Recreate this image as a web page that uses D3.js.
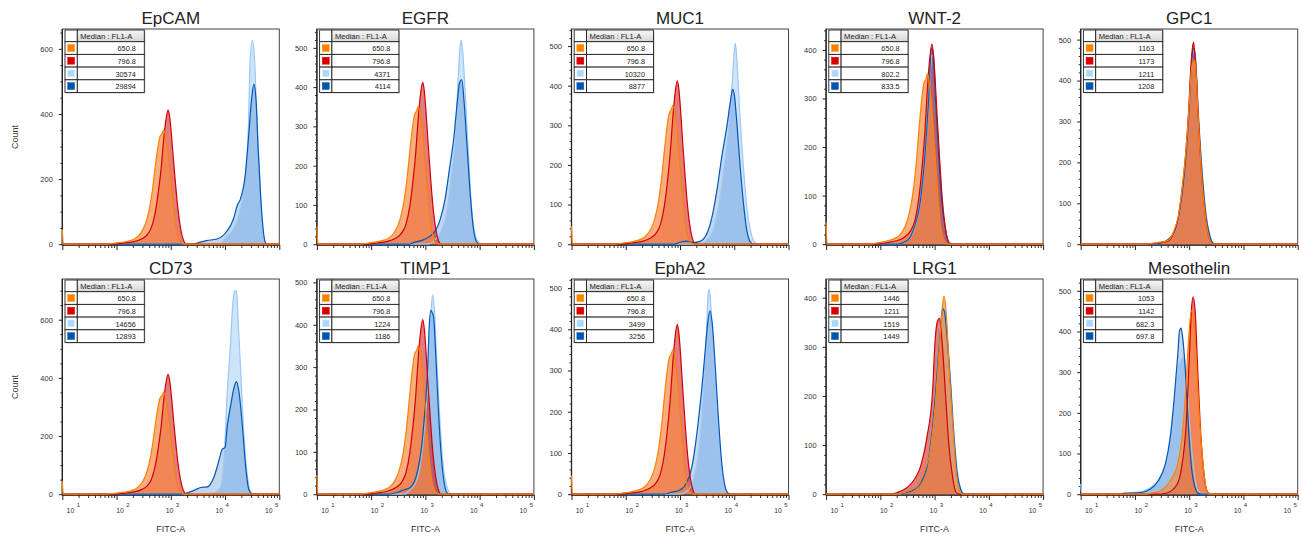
<!DOCTYPE html>
<html><head><meta charset="utf-8">
<script src="https://cdn.jsdelivr.net/npm/d3@7"></script>
<style>
body{margin:0;background:#fff;}
svg{display:block;font-family:"Liberation Sans",Arial,Helvetica,sans-serif;}
</style></head><body>
<svg id="chart" width="1302" height="539"></svg>
<script>
// ---------------- DATA ----------------
const panelNames = ["EpCAM","EGFR","MUC1","WNT-2","GPC1","CD73","TIMP1","EphA2","LRG1","Mesothelin"];
const yMax        = [661, 548, 543, 443, 526, 740, 508, 522, 438, 529];
const yMajorStep  = [200, 100, 100, 100, 100, 200, 100, 100, 100, 100];
const yMinorStep  = [50, 20, 20, 20, 20, 50, 20, 20, 20, 20];
const xTickExponents = [1, 2, 3, 4, 5];
const legendHeader = "Median : FL1-A";
const xAxisLabel = "FITC-A";
const yAxisLabel = "Count";
const medians = [
  ["650.8","796.8","30574","29894"],
  ["650.8","796.8","4371","4114"],
  ["650.8","796.8","10320","8877"],
  ["650.8","796.8","802.2","833.5"],
  ["1163","1173","1211","1208"],
  ["650.8","796.8","14656","12893"],
  ["650.8","796.8","1224","1186"],
  ["650.8","796.8","3499","3256"],
  ["1446","1211","1519","1449"],
  ["1053","1142","682.3","697.8"]
];
// each series: [log10(FITC-A), count]
const ctrlOrange = [[1,45],[1.02,0],[1.8,0],[1.95,3],[2.1,6],[2.25,11],[2.35,18],[2.45,35],[2.53,62],[2.6,105],[2.66,165],[2.71,233],[2.76,295],[2.8,330],[2.84,340],[2.87,351],[2.91,325],[2.95,280],[2.99,215],[3.03,150],[3.08,72],[3.13,25],[3.18,7],[3.25,0],[5,0]];
const ctrlRed = [[1,0],[1.9,0],[2.1,3],[2.3,7],[2.45,15],[2.56,28],[2.64,50],[2.71,95],[2.77,160],[2.82,230],[2.87,324],[2.91,382],[2.95,412],[2.98,390],[3.01,340],[3.05,256],[3.09,180],[3.13,110],[3.18,49],[3.23,14],[3.29,0],[5,0]];
const epcamLight = [[1,0],[3.9,0],[4.03,24],[4.15,44],[4.28,106],[4.37,199],[4.43,363],[4.46,549],[4.5,626],[4.54,579],[4.58,415],[4.63,240],[4.67,96],[4.72,13],[4.77,0],[5,0]];
const epcamDark = [[1,0],[3.4,0],[3.5,4],[3.66,11],[3.85,16],[4.03,39],[4.15,75],[4.23,121],[4.28,137],[4.37,209],[4.43,322],[4.49,446],[4.53,492],[4.57,446],[4.61,291],[4.66,137],[4.71,34],[4.75,3],[4.8,0],[5,0]];
const egfrLight = [[1,0],[3.05,0],[3.15,7],[3.27,28],[3.39,79],[3.48,173],[3.55,266],[3.6,411],[3.64,504],[3.66,520],[3.69,487],[3.74,368],[3.8,215],[3.85,96],[3.91,28],[3.99,3],[4.05,0],[5,0]];
const egfrDark = [[1,0],[2.7,0],[2.78,4],[2.96,11],[3.15,28],[3.27,62],[3.36,113],[3.45,198],[3.52,266],[3.58,351],[3.63,411],[3.67,419],[3.71,368],[3.76,266],[3.82,139],[3.88,45],[3.94,7],[4,0],[5,0]];
const muc1Light = [[1,0],[3.35,0],[3.44,4],[3.59,28],[3.71,94],[3.8,178],[3.9,295],[3.96,403],[4,487],[4.02,507],[4.05,462],[4.1,336],[4.17,194],[4.23,94],[4.31,28],[4.39,3],[4.45,0],[5,0]];
const muc1Dark = [[1,0],[2.9,0],[3,5],[3.12,8],[3.25,4],[3.37,7],[3.5,28],[3.59,69],[3.68,136],[3.77,220],[3.87,303],[3.93,361],[3.97,391],[4,378],[4.05,303],[4.11,194],[4.17,103],[4.23,36],[4.29,7],[4.36,0],[5,0]];
const wnt2Light = [[1,0],[2.3,0],[2.5,8],[2.62,30],[2.74,88],[2.83,190],[2.89,295],[2.93,370],[2.95,390],[2.98,385],[3.02,300],[3.08,190],[3.14,90],[3.2,32],[3.27,5],[3.33,0],[5,0]];
const wnt2Dark = [[1,0],[2.3,0],[2.5,8],[2.61,30],[2.74,91],[2.83,194],[2.89,297],[2.94,403],[2.97,393],[3.01,311],[3.07,194],[3.13,91],[3.2,30],[3.26,3],[3.3,0],[5,0]];
const gpc1Orange = [[1,0],[2.2,0],[2.4,4],[2.59,8],[2.71,30],[2.8,70],[2.86,126],[2.93,215],[2.99,320],[3.03,410],[3.06,445],[3.08,440],[3.1,450],[3.12,430],[3.17,300],[3.23,165],[3.3,67],[3.36,19],[3.42,2],[3.46,0],[5,0]];
const gpc1Red = [[1,0],[2.2,0],[2.4,3],[2.59,6],[2.71,27],[2.8,67],[2.86,124],[2.93,213],[2.99,327],[3.03,433],[3.06,480],[3.08,494],[3.1,470],[3.12,441],[3.17,303],[3.23,165],[3.3,67],[3.36,19],[3.42,2],[3.46,0],[5,0]];
const gpc1Light = [[1,0],[2.3,0],[2.5,4],[2.7,22],[2.8,60],[2.87,120],[2.94,215],[3,330],[3.04,430],[3.07,470],[3.09,480],[3.12,450],[3.17,320],[3.24,175],[3.31,75],[3.38,22],[3.45,3],[3.5,0],[5,0]];
const gpc1Dark = [[1,0],[2.3,0],[2.5,4],[2.7,24],[2.8,64],[2.87,122],[2.94,215],[3,330],[3.04,435],[3.07,475],[3.09,478],[3.12,445],[3.17,312],[3.24,170],[3.31,70],[3.38,20],[3.44,2],[3.5,0],[5,0]];
const cd73Light = [[1,0],[3.5,0],[3.8,5],[3.92,26],[3.98,118],[4.04,347],[4.1,519],[4.13,620],[4.17,695],[4.2,700],[4.22,680],[4.24,600],[4.29,420],[4.35,200],[4.42,50],[4.48,5],[4.55,0],[5,0]];
const cd73Dark = [[1,0],[3.2,0],[3.27,3],[3.45,15],[3.55,23],[3.67,25],[3.8,61],[3.89,118],[3.95,155],[4,160],[4.04,233],[4.1,301],[4.17,370],[4.21,387],[4.26,347],[4.32,233],[4.38,95],[4.44,15],[4.51,0],[5,0]];
const timp1Light = [[1,0],[2.6,0],[2.72,10],[2.84,32],[2.96,126],[3.04,253],[3.09,395],[3.13,470],[3.17,427],[3.21,316],[3.26,190],[3.32,79],[3.4,16],[3.46,2],[3.5,0],[5,0]];
const timp1Dark = [[1,0],[2.3,0],[2.47,4],[2.6,10],[2.72,16],[2.84,47],[2.93,111],[2.99,197],[3.04,292],[3.07,395],[3.1,434],[3.12,430],[3.15,419],[3.19,332],[3.24,197],[3.29,95],[3.35,24],[3.41,2],[3.45,0],[5,0]];
const epha2Light = [[1,0],[3,0],[3.12,6],[3.25,35],[3.34,99],[3.42,220],[3.48,366],[3.52,487],[3.54,497],[3.57,455],[3.62,342],[3.68,204],[3.74,99],[3.8,35],[3.88,4],[3.93,0],[5,0]];
const epha2Dark = [[1,0],[2.7,0],[2.82,4],[3,10],[3.12,27],[3.22,67],[3.28,116],[3.34,180],[3.4,253],[3.46,342],[3.51,414],[3.55,445],[3.6,406],[3.65,309],[3.71,180],[3.77,75],[3.83,19],[3.89,2],[3.95,0],[5,0]];
const lrg1Orange = [[1,0],[2.3,0],[2.43,3],[2.55,8],[2.68,16],[2.8,43],[2.93,97],[3.02,192],[3.08,287],[3.13,361],[3.17,403],[3.22,361],[3.26,273],[3.33,151],[3.39,56],[3.45,9],[3.51,0],[5,0]];
const lrg1Red = [[1,5],[1.02,0],[2.2,0],[2.3,3],[2.43,9],[2.62,29],[2.74,56],[2.86,117],[2.96,205],[3.01,314],[3.05,351],[3.09,358],[3.14,307],[3.2,205],[3.26,104],[3.33,36],[3.39,5],[3.45,0],[5,0]];
const lrg1Light = [[1,0],[2.3,0],[2.45,3],[2.6,8],[2.75,25],[2.88,70],[2.98,160],[3.05,260],[3.1,330],[3.15,385],[3.18,380],[3.23,330],[3.29,240],[3.36,120],[3.42,45],[3.48,12],[3.54,2],[3.58,0],[5,0]];
const lrg1Dark = [[1,0],[2.3,0],[2.45,3],[2.6,8],[2.75,24],[2.88,68],[2.98,158],[3.05,255],[3.1,325],[3.15,378],[3.18,372],[3.23,320],[3.29,230],[3.36,112],[3.42,40],[3.48,10],[3.54,0],[5,0]];
const mesoOrange = [[1,0],[2.2,0],[2.28,2],[2.46,8],[2.65,33],[2.77,66],[2.86,131],[2.94,262],[2.99,385],[3.04,451],[3.08,434],[3.13,328],[3.18,205],[3.25,82],[3.31,16],[3.37,0],[5,0]];
const mesoRed = [[1,0],[2.4,0],[2.59,3],[2.78,25],[2.86,66],[2.94,164],[3,328],[3.04,451],[3.07,485],[3.11,451],[3.15,328],[3.2,180],[3.26,66],[3.33,8],[3.39,0],[5,0]];
const mesoLight = [[1,25],[1.02,0],[1.7,0],[1.79,3],[2.1,6],[2.28,16],[2.46,41],[2.62,107],[2.71,205],[2.8,311],[2.86,332],[2.91,336],[2.96,262],[3.02,148],[3.08,66],[3.14,16],[3.2,2],[3.25,0],[5,0]];
const mesoDark = [[1,0],[1.7,0],[1.79,2],[2.1,4],[2.28,12],[2.43,33],[2.56,74],[2.65,139],[2.73,246],[2.79,344],[2.82,400],[2.85,408],[2.88,385],[2.93,303],[2.98,180],[3.03,82],[3.09,25],[3.17,2],[3.22,0],[5,0]];

const seriesByPanel = [
  [ctrlOrange, ctrlRed, epcamLight, epcamDark],
  [ctrlOrange, ctrlRed, egfrLight, egfrDark],
  [ctrlOrange, ctrlRed, muc1Light, muc1Dark],
  [ctrlOrange, ctrlRed, wnt2Light, wnt2Dark],
  [gpc1Orange, gpc1Red, gpc1Light, gpc1Dark],
  [ctrlOrange, ctrlRed, cd73Light, cd73Dark],
  [ctrlOrange, ctrlRed, timp1Light, timp1Dark],
  [ctrlOrange, ctrlRed, epha2Light, epha2Dark],
  [lrg1Orange, lrg1Red, lrg1Light, lrg1Dark],
  [mesoOrange, mesoRed, mesoLight, mesoDark]
];

// ---------------- STYLE / LAYOUT ----------------
const lineColors   = ["#ff8000","#d40000","#9cc8f5","#0057b7"];
const fillColors   = ["#f88c46","#c80a0a","#a6cdf7","#0057b7"];
const fillOpacity  = [0.7, 0.53, 0.55, 0.24];
const swatchColors = ["#ff8000","#d40000","#b0d6fb","#0055aa"];
const colLeft0 = 62.3, colStep = 254.6, frameW = 217, frameH = 216;
const rowTop = [29, 279];

const svg = d3.select("#chart");
const defs = svg.append("defs");
const grad = defs.append("linearGradient").attr("id","hdr").attr("x1",0).attr("y1",0).attr("x2",0).attr("y2",1);
grad.append("stop").attr("offset","0%").attr("stop-color","#f7f7f7");
grad.append("stop").attr("offset","100%").attr("stop-color","#d6d6d6");

panelNames.forEach((name, i) => {
  const col = i % 5, row = Math.floor(i / 5);
  const g = svg.append("g").attr("transform", `translate(${colLeft0 + col*colStep},${rowTop[row]})`);
  const x = d3.scaleLog().domain([10, 1e5]).range([0, frameW]);
  const y = d3.scaleLinear().domain([0, yMax[i]]).range([frameH - 0.8, 0]);
  const series = seriesByPanel[i];

  const area = d3.area().x(d => x(Math.pow(10, d[0]))).y0(y(0)).y1(d => y(d[1])).curve(d3.curveMonotoneX);
  const line = area.lineY1();

  // frame
  g.append("rect").attr("width", frameW).attr("height", frameH).attr("fill", "#fff").attr("stroke", "#444").attr("stroke-width", 1);

  // y axis
  const majors = d3.range(0, yMax[i] + 1, yMajorStep[i]);
  const minors = d3.range(0, yMax[i], yMinorStep[i]).filter(v => v % yMajorStep[i] !== 0);
  g.append("g").call(d3.axisLeft(y).tickValues(minors).tickSize(2).tickFormat(""))
    .call(a => { a.select(".domain").remove(); a.selectAll("line").attr("stroke","#333"); });
  g.append("g").call(d3.axisLeft(y).tickValues(majors).tickSize(3.5).tickPadding(6))
    .call(a => { a.select(".domain").remove(); a.selectAll("line").attr("stroke","#222");
      a.selectAll("text").attr("font-size", 7.5).attr("fill", "#333").attr("font-family", null); });

  // x axis
  const xMaj = xTickExponents.map(e => Math.pow(10, e));
  const xMin = [];
  xTickExponents.slice(0, -1).forEach(e => { for (let m = 2; m <= 9; m++) xMin.push(m * Math.pow(10, e)); });
  g.append("g").attr("transform", `translate(0,${frameH})`)
    .call(d3.axisBottom(x).tickValues(xMin).tickSize(3).tickFormat(""))
    .call(a => { a.select(".domain").remove(); a.selectAll("line").attr("stroke","#333"); });
  g.append("g").attr("transform", `translate(0,${frameH})`)
    .call(d3.axisBottom(x).tickValues(xMaj).tickSize(5).tickFormat(""))
    .call(a => { a.select(".domain").remove(); a.selectAll("line").attr("stroke","#222"); });

  // axis lines
  g.append("line").attr("x1", 0).attr("x2", 0).attr("y1", 0).attr("y2", frameH).attr("stroke", "#222").attr("stroke-width", 1.3);
  g.append("line").attr("x1", 0).attr("x2", frameW).attr("y1", frameH).attr("y2", frameH).attr("stroke", "#222").attr("stroke-width", 1.3);

  // histograms: blue fills, red fill, orange fill on top; then outlines
  [2,3,1,0].forEach(k => {
    g.append("path").attr("d", area(series[k])).attr("fill", fillColors[k]).attr("fill-opacity", fillOpacity[k]);
  });
  [2,3,1,0].forEach(k => {
    g.append("path").attr("d", line(series[k])).attr("fill", "none").attr("stroke", lineColors[k])
      .attr("stroke-width", 1.2).attr("stroke-linejoin","round");
  });

  // title
  g.append("text").attr("x", frameW/2).attr("y", -5).attr("text-anchor", "middle")
    .attr("font-size", 17).attr("fill", "#222").text(name);

  if (row === 1) {
    xTickExponents.forEach((e, k) => {
      const t = g.append("text").attr("x", x(Math.pow(10, e)) + 4.3 - 4.65*k).attr("y", frameH + 18.3)
        .attr("font-size", 6.8).attr("fill", "#333");
      t.append("tspan").text("10");
      t.append("tspan").attr("dx", 2.5).attr("dy", -6).attr("font-size", 6).text(e);
    });
    g.append("text").attr("x", frameW/2).attr("y", frameH + 36.5).attr("text-anchor", "middle")
      .attr("font-size", 9).attr("fill", "#333").text(xAxisLabel);
  }
  if (col === 0) {
    g.append("text").attr("transform", `translate(-44.3,${frameH/2}) rotate(-90)`).attr("text-anchor", "middle")
      .attr("font-size", 9).attr("fill", "#333").text(yAxisLabel);
  }

  // legend table
  const tg = g.append("g").attr("transform", "translate(2.7,1)");
  const tw = 79.3, c1 = 12.3, hh = 11.7, rh = 12.7;
  tg.append("rect").attr("x", 1).attr("y", 1).attr("width", tw).attr("height", hh + 4*rh).attr("fill", "#888").attr("opacity", 0.5);
  tg.append("rect").attr("width", c1).attr("height", hh).attr("fill", "#fff").attr("stroke", "#222").attr("stroke-width", 0.9);
  tg.append("rect").attr("x", c1).attr("width", tw - c1).attr("height", hh).attr("fill", "url(#hdr)").attr("stroke", "#222").attr("stroke-width", 0.9);
  tg.append("text").attr("x", c1 + 3).attr("y", 8.8).attr("font-size", 7.6).attr("fill", "#222").text(legendHeader);
  medians[i].forEach((m, k) => {
    const ry = hh + k*rh;
    tg.append("rect").attr("y", ry).attr("width", c1).attr("height", rh).attr("fill", "#fff").attr("stroke", "#222").attr("stroke-width", 0.9);
    tg.append("rect").attr("x", c1).attr("y", ry).attr("width", tw - c1).attr("height", rh).attr("fill", "#fff").attr("stroke", "#222").attr("stroke-width", 0.9);
    tg.append("rect").attr("x", c1/2 - 3.5).attr("y", ry + 2.8).attr("width", 7).attr("height", 7)
      .attr("fill", swatchColors[k]).attr("stroke", d3.color(swatchColors[k]).brighter(0.6)).attr("stroke-width", 0.5);
    tg.append("text").attr("x", tw - 8.5).attr("y", ry + 9.6).attr("text-anchor", "end")
      .attr("font-size", 7.3).attr("fill", "#222").text(m);
  });
});
</script></body></html>
